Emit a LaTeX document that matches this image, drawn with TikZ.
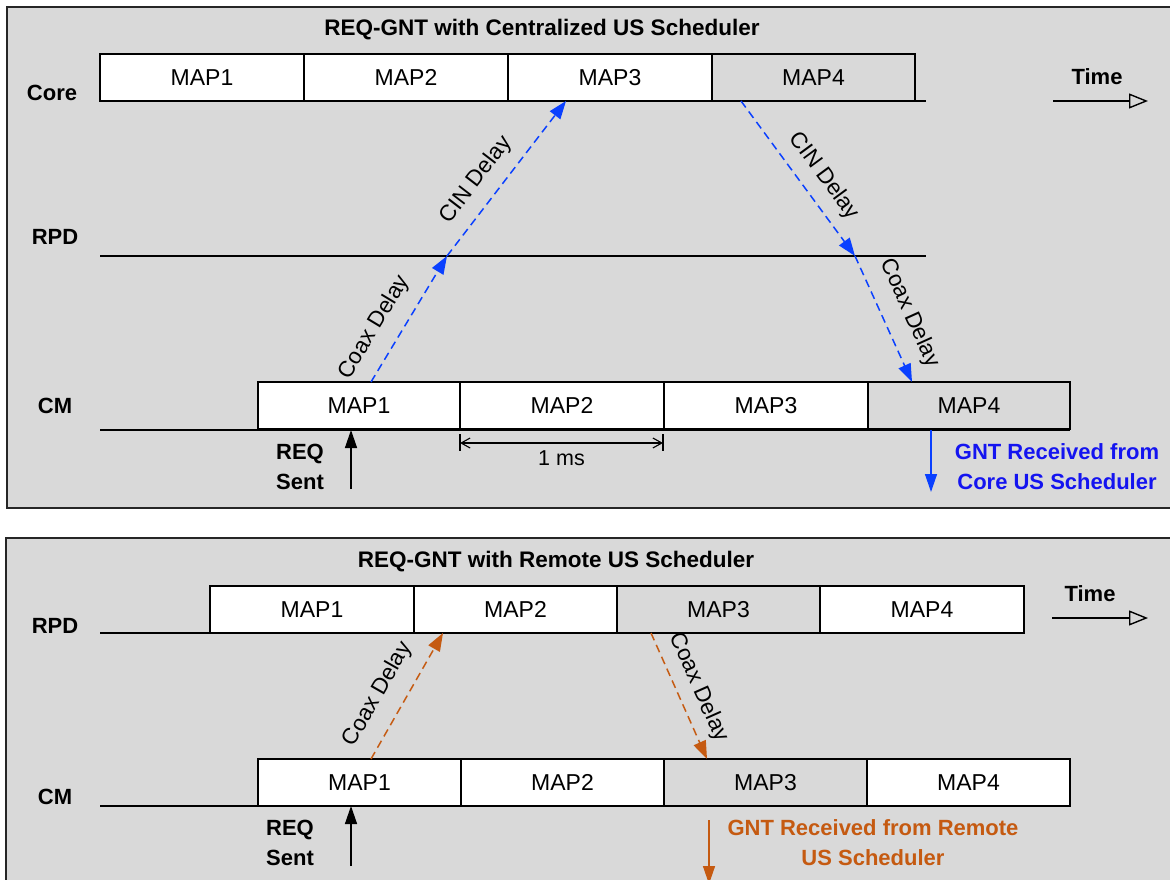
\documentclass[tikz,border=0pt]{standalone}
\usepackage{fontspec}
\setmainfont{Liberation Sans}
\usetikzlibrary{arrows.meta}
\definecolor{panelgray}{HTML}{D9D9D9}
\definecolor{arrowblue}{HTML}{0A40FF}
\definecolor{textblue}{HTML}{1414F0}
\definecolor{burnt}{HTML}{C55A11}
\begin{document}
\begin{tikzpicture}[x=1pt,y=-1pt,
  panel/.style={draw=black!85, line width=1.6pt, fill=panelgray},
  mapbox/.style={draw, line width=1.4pt, fill=white, anchor=north west,
    minimum height=47pt, inner sep=0pt, outer sep=0pt,
    font=\fontsize{23}{27}\selectfont},
  graybox/.style={mapbox, fill=panelgray},
  rowline/.style={line width=1.4pt},
  lbl/.style={font=\bfseries\fontsize{22}{26}\selectfont, inner sep=0pt},
  titlelbl/.style={font=\bfseries\fontsize{22.5}{26}\selectfont, inner sep=0pt},
  delaylbl/.style={text=black, font=\fontsize{22.5}{26}\selectfont, inner sep=2pt, sloped},
  bluedash/.style={arrowblue, line width=1.5pt, dash pattern=on 8pt off 5pt,
    -{Triangle[length=18pt,width=13pt]}},
  orangedash/.style={burnt, line width=1.5pt, dash pattern=on 8pt off 5pt,
    -{Triangle[length=18pt,width=13pt]}},
  timearrow/.style={line width=1.4pt, -{Triangle[open,length=19pt,width=15pt]}},
  solidarrow/.style={line width=1.4pt, -{Triangle[length=18pt,width=12pt]}},
  dimarrow/.style={line width=1.1pt, {Straight Barb[length=9pt,width=10pt]}-{Straight Barb[length=9pt,width=10pt]}},
]
\fill[white] (0,0) rectangle (1170,880);
\clip (0,0) rectangle (1170,880);

% ---------------- centralized scheduler panel ----------------
\draw[panel] (7,7) rectangle (1185,508);
\node[titlelbl] (title1) at (542,30) {REQ-GNT with Centralized US Scheduler};

% Core row
\node[lbl] (corelbl) at (52,93) {Core};
\coordinate (coreL) at (100,101);
\coordinate (coreR) at (926,101);
\draw[rowline] (coreL) -- (coreR);
\node[mapbox, minimum width=204pt] (core1) at (100,54) {MAP1};
\node[mapbox, minimum width=204pt] (core2) at (304,54) {MAP2};
\node[mapbox, minimum width=204pt] (core3) at (508,54) {MAP3};
\node[graybox, minimum width=203pt] (core4) at (712,54) {MAP4};

% time axis
\node[lbl] (time1) at (1097,77) {Time};
\coordinate (t1a) at (1053,101);
\coordinate (t1b) at (1148,101);
\draw[timearrow] (t1a) -- (t1b);

% RPD row
\node[lbl] (rpdlbl1) at (55,237) {RPD};
\coordinate (rpdL) at (100,256);
\coordinate (rpdR) at (926,256);
\draw[rowline] (rpdL) -- (rpdR);

% CM row
\node[lbl] (cmlbl1) at (55,406) {CM};
\coordinate (cmL) at (100,430);
\coordinate (cmR) at (1070,430);
\draw[rowline] (cmL) -- (cmR);
\node[mapbox, minimum width=202pt] (cm1) at (258,382) {MAP1};
\node[mapbox, minimum width=204pt] (cm2) at (460,382) {MAP2};
\node[mapbox, minimum width=204pt] (cm3) at (664,382) {MAP3};
\node[graybox, minimum width=202pt] (cm4) at (868,382) {MAP4};

% request path up to the core and grant path back down
\coordinate (up0) at (371,382);
\coordinate (up1) at (447,256);
\coordinate (up2) at (566,101);
\coordinate (dn0) at (741,101);
\coordinate (dn1) at (855,256);
\coordinate (dn2) at (912,382);
\draw[bluedash] (up0) -- node[delaylbl, pos=0.33, above=12pt] {Coax Delay} (up1);
\draw[bluedash] (up1) -- node[delaylbl, pos=0.40, above=10pt] {CIN Delay} (up2);
\draw[bluedash] (dn0) -- node[delaylbl, pos=0.57, above=9pt] {CIN Delay} (dn1);
\draw[bluedash] (dn1) -- node[delaylbl, pos=0.54, above=13pt] {Coax Delay} (dn2);

% 1 ms interval
\draw[line width=1.1pt] (460,434) -- (460,451);
\draw[line width=1.1pt] (663,434) -- (663,451);
\coordinate (ms0) at (460,443);
\coordinate (ms1) at (663,443);
\draw[dimarrow] (ms0) -- node[below=7pt, font=\fontsize{21.5}{24}\selectfont, inner sep=0pt] (mslbl) {1 ms} (ms1);

% REQ sent
\node[lbl, align=center] (req1) at (300,467) {REQ\\[4pt]Sent};
\coordinate (rq1a) at (351,489);
\coordinate (rq1b) at (351,430);
\draw[solidarrow] (rq1a) -- (rq1b);

% GNT received
\coordinate (g1a) at (931,430);
\coordinate (g1b) at (931,492);
\draw[solidarrow, arrowblue] (g1a) -- (g1b);
\node[lbl, align=center, text=textblue] (gnt1) at (1057,467) {GNT Received from\\[4pt]Core US Scheduler};

% ---------------- remote scheduler panel ----------------
\draw[panel] (6,538) rectangle (1185,895);
\node[titlelbl] (title2) at (556,562) {REQ-GNT with Remote US Scheduler};

% RPD row
\node[lbl] (rpdlbl2) at (55,626) {RPD};
\coordinate (rpd2L) at (100,633);
\coordinate (rpd2R) at (1024,633);
\draw[rowline] (rpd2L) -- (rpd2R);
\node[mapbox, minimum width=204pt] (rpd1) at (210,586) {MAP1};
\node[mapbox, minimum width=203pt] (rpd2) at (414,586) {MAP2};
\node[graybox, minimum width=203pt] (rpd3) at (617,586) {MAP3};
\node[mapbox, minimum width=204pt] (rpd4) at (820,586) {MAP4};

% time axis
\node[lbl] (time2) at (1090,594) {Time};
\coordinate (t2a) at (1052,618);
\coordinate (t2b) at (1148,618);
\draw[timearrow] (t2a) -- (t2b);

% CM row
\node[lbl] (cmlbl2) at (55,797) {CM};
\coordinate (cm2L) at (100,806);
\coordinate (cm2R) at (1070,806);
\draw[rowline] (cm2L) -- (cm2R);
\node[mapbox, minimum width=203pt] (cmb1) at (258,759) {MAP1};
\node[mapbox, minimum width=203pt] (cmb2) at (461,759) {MAP2};
\node[graybox, minimum width=203pt] (cmb3) at (664,759) {MAP3};
\node[mapbox, minimum width=203pt] (cmb4) at (867,759) {MAP4};

% request and grant over the coax only
\coordinate (ru0) at (371,759);
\coordinate (ru1) at (443,633);
\coordinate (rd0) at (651,633);
\coordinate (rd1) at (707,759);
\draw[orangedash] (ru0) -- node[delaylbl, pos=0.41, above=13pt] {Coax Delay} (ru1);
\draw[orangedash] (rd0) -- node[delaylbl, pos=0.5, above=8pt] {Coax Delay} (rd1);

% REQ sent
\node[lbl, align=center] (req2) at (290,843) {REQ\\[4pt]Sent};
\coordinate (rq2a) at (351,866);
\coordinate (rq2b) at (351,806);
\draw[solidarrow] (rq2a) -- (rq2b);

% GNT received
\coordinate (g2a) at (709,820);
\coordinate (g2b) at (709,884);
\draw[solidarrow, burnt] (g2a) -- (g2b);
\node[lbl, align=center, text=burnt] (gnt2) at (873,843) {GNT Received from Remote\\[4pt]US Scheduler};
\end{tikzpicture}
\end{document}
